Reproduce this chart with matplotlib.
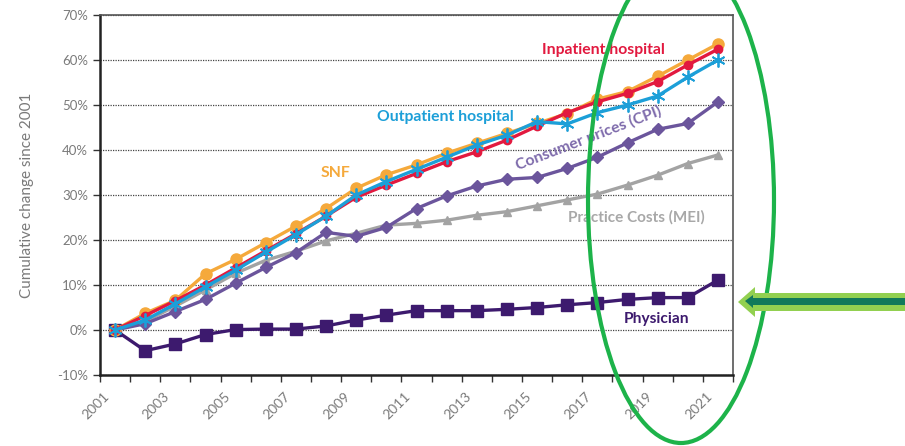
import matplotlib.pyplot as plt
from matplotlib.patches import Ellipse, Polygon
from matplotlib.transforms import ScaledTranslation

# categories and series (cumulative % change since 2001)
years = ['2001', '2002', '2003', '2004', '2005', '2006', '2007', '2008', '2009', '2010', '2011',
         '2012', '2013', '2014', '2015', '2016', '2017', '2018', '2019', '2020', '2021']
inpatient = [0, 3.2, 6.5, 10.0, 13.8, 17.6, 21.4, 25.3, 29.5, 32.2, 34.8,
             37.4, 39.6, 42.2, 45.3, 48.3, 50.7, 52.6, 55.2, 58.9, 62.4]
snf = [0, 3.7, 6.6, 12.5, 15.7, 19.4, 23.1, 27.0, 31.5, 34.5, 36.7,
       39.3, 41.5, 43.7, 45.9, 48.1, 51.3, 53.0, 56.4, 60.0, 63.6]
outpatient = [0, 2.2, 5.8, 9.6, 13.3, 17.3, 21.2, 25.3, 30.0, 33.0, 35.7,
              38.4, 41.1, 43.3, 46.3, 45.8, 48.3, 50.0, 52.0, 56.2, 60.0]
cpi = [0, 1.4, 4.1, 6.8, 10.4, 13.9, 17.2, 21.7, 20.8, 22.8, 27.0,
       29.8, 32.0, 33.5, 33.9, 35.9, 38.4, 41.6, 44.6, 45.9, 50.7]
mei = [0, 1.9, 5.3, 8.9, 12.6, 15.5, 17.5, 19.8, 21.5, 23.3, 23.7,
       24.4, 25.5, 26.3, 27.6, 28.9, 30.2, 32.2, 34.4, 37.0, 38.9]
physician = [0, -4.6, -3.1, -1.0, 0.1, 0.2, 0.2, 0.9, 2.2, 3.3, 4.3,
             4.3, 4.3, 4.6, 5.0, 5.6, 6.1, 6.8, 7.2, 7.2, 11.1]
y_ticks = [-10, 0, 10, 20, 30, 40, 50, 60, 70]

plt.rcParams['font.family'] = ['Lato', 'DejaVu Sans']

fig = plt.figure(figsize=(9.05, 4.46), dpi=100)
ax = fig.add_axes([100 / 905, 71 / 446, 633 / 905, 360 / 446])

x = list(range(len(years)))

# series
ax.plot(x, physician, color='#3d1a6e', lw=2.4, marker='s', ms=8, zorder=3)
ax.plot(x, mei, color='#a3a3a3', lw=2.4, marker='^', ms=6, zorder=3)
ax.plot(x, cpi, color='#6b559c', lw=2.4, marker='D', ms=6, zorder=4)
ax.plot(x, snf, color='#f5a93b', lw=2.4, marker='o', ms=8, zorder=5)
ax.plot(x, inpatient, color='#e2193f', lw=2.4, marker='o', ms=6, zorder=6)
ax.plot(x, outpatient, color='#1c9fd8', lw=2.4, marker=(6, 2, 0), ms=10, mew=1.3, zorder=7)

# axes styling
ax.set_xlim(-0.5, len(years) - 0.5)
ax.set_ylim(-10, 70)
ax.set_yticks(y_ticks)
ax.set_yticklabels([f'{v}%' for v in y_ticks], color='#7a7a7a', fontsize=9.5)
ax.grid(axis='y', linestyle=(0, (1, 1)), color='#444444', lw=0.9)
ax.set_axisbelow(True)

# tick marks on category boundaries, labels on every other year
ax.set_xticks([i - 0.5 for i in range(len(years) + 1)])
ax.set_xticklabels([])
ax.set_xticks(x[::2], years[::2], minor=True)
ax.tick_params(axis='x', which='minor', length=0, pad=6)
shift = ScaledTranslation(-0.12, -0.07, fig.dpi_scale_trans)
for lab in ax.get_xticklabels(minor=True):
    lab.set_rotation(45)
    lab.set_ha('right')
    lab.set_rotation_mode('anchor')
    lab.set_color('#7a7a7a')
    lab.set_fontsize(10)
    lab.set_transform(lab.get_transform() + shift)

ax.tick_params(axis='both', which='major', length=5, width=1, color='#333333')
for side in ['left', 'bottom']:
    ax.spines[side].set_color('#222222')
    ax.spines[side].set_linewidth(1.8)
for side in ['top', 'right']:
    ax.spines[side].set_color('#555555')
    ax.spines[side].set_linewidth(1.2)

ax.set_ylabel('Cumulative change since 2001', color='#7a7a7a', fontsize=11, labelpad=17)

# series labels
ax.text(16.2, 62.2, 'Inpatient hospital', color='#e2193f', fontsize=11.3, fontweight='bold',
        ha='center', va='center')
ax.text(10.95, 47.3, 'Outpatient hospital', color='#1c9fd8', fontsize=11.3, fontweight='bold',
        ha='center', va='center')
ax.text(7.3, 34.9, 'SNF', color='#f5a93b', fontsize=11.3, fontweight='bold',
        ha='center', va='center')
ax.text(15.7, 42.7, 'Consumer prices (CPI)', color='#7d6aab', fontsize=11.3, fontweight='bold',
        ha='center', va='center', rotation=21)
ax.text(17.3, 25.1, 'Practice Costs (MEI)', color='#a8a8a8', fontsize=11, fontweight='bold',
        ha='center', va='center')
ax.text(17.95, 2.4, 'Physician', color='#3d1a6e', fontsize=11.2, fontweight='bold',
        ha='center', va='center')

# green highlight ellipse and arrow (pixel coordinates)
H = 446
ell = Ellipse((681, H - 200), 186, 486, angle=0, fill=False, edgecolor='#1db34a',
              lw=3, transform=None, zorder=10)
fig.add_artist(ell)

outer = Polygon([(738, H - 302), (755, H - 287), (755, H - 293), (905, H - 293),
                 (905, H - 311), (755, H - 311), (755, H - 317)],
                closed=True, facecolor='#92d050', edgecolor='none', transform=None, zorder=11)
inner = Polygon([(745, H - 301), (753, H - 295), (753, H - 298), (905, H - 298),
                 (905, H - 305), (753, H - 305), (753, H - 308)],
                closed=True, facecolor='#11795a', edgecolor='none', transform=None, zorder=12)
fig.add_artist(outer)
fig.add_artist(inner)

fig.savefig('out.png', dpi=100)
